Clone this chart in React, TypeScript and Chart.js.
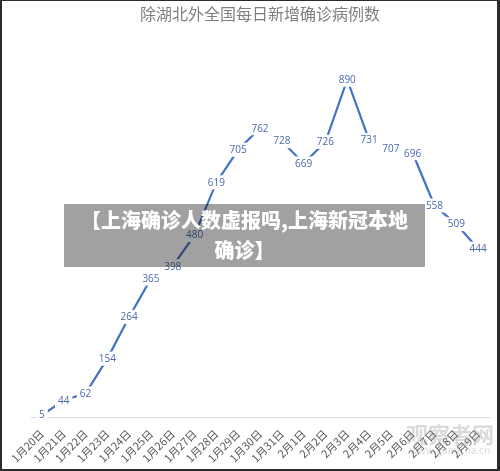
import React, { useEffect, useRef } from "react";
import { Chart, registerables } from "chart.js";

Chart.register(...registerables);

const titleText = "除湖北外全国每日新增确诊病例数";
const categories = [
  "1月20日", "1月21日", "1月22日", "1月23日", "1月24日", "1月25日", "1月26日",
  "1月27日", "1月28日", "1月29日", "1月30日", "1月31日", "2月1日", "2月2日",
  "2月3日", "2月4日", "2月5日", "2月6日", "2月7日", "2月8日", "2月9日",
];
const newCases = [
  5, 44, 62, 154, 264, 365, 398, 480, 619, 705, 762, 728, 669, 726, 890, 731,
  707, 696, 558, 509, 444,
];
const overlayLines = ["【上海确诊人数虚报吗,上海新冠本地", "确诊】"];

const LINE_COLOR = "#4472c4";
const LABEL_COLOR = "#4a69ad";

const labelPlugin = {
  id: "pointLabels",
  afterDatasetsDraw(chart: any) {
    const ctx = chart.ctx;
    const meta = chart.getDatasetMeta(0);
    const data = chart.data.datasets[0].data as number[];
    ctx.save();
    ctx.font = "10px 'Open Sans', 'Noto Sans', sans-serif";
    ctx.textAlign = "center";
    ctx.textBaseline = "middle";
    meta.data.forEach((pt: any, i: number) => {
      const txt = String(data[i]);
      const w = ctx.measureText(txt).width;
      ctx.fillStyle = "#ffffff";
      ctx.fillRect(pt.x - w / 2 - 3, pt.y - 7, w + 6, 14);
      ctx.fillStyle = LABEL_COLOR;
      ctx.fillText(txt, pt.x, pt.y + 0.5);
    });
    ctx.restore();
  },
};

export default function App() {
  const canvasRef = useRef<HTMLCanvasElement | null>(null);

  useEffect(() => {
    document.body.style.margin = "0";
    const canvas = canvasRef.current;
    if (!canvas) return;
    const chart = new Chart(canvas, {
      type: "line",
      data: {
        labels: categories,
        datasets: [
          {
            data: newCases,
            borderColor: LINE_COLOR,
            borderWidth: 2.2,
            pointRadius: 0,
            tension: 0,
            fill: false,
          },
        ],
      },
      options: {
        animation: false,
        responsive: false,
        devicePixelRatio: 1,
        layout: { padding: { left: 31, right: 11, top: 0, bottom: 0 } },
        plugins: {
          legend: { display: false },
          tooltip: { enabled: false },
          title: {
            display: true,
            text: titleText,
            color: "#7f7f7f",
            font: { size: 16, family: "'Noto Sans CJK SC', sans-serif", weight: "normal" as any, lineHeight: 1.2 },
            padding: { top: 4, bottom: 14.8 },
          },
        },
        scales: {
          x: {
            type: "category",
            offset: true,
            grid: { display: false, drawTicks: false },
            border: { display: true, color: "#d9d9d9", width: 1 },
            ticks: {
              autoSkip: false,
              minRotation: 45,
              maxRotation: 45,
              padding: 10,
              color: "#595959",
              font: { size: 11, family: "'Noto Sans CJK SC', sans-serif" },
            },
            afterFit(scale: any) {
              scale.height = 54;
            },
          },
          y: {
            display: false,
            min: 0,
            max: 1000,
          },
        },
      },
      plugins: [labelPlugin],
    });
    return () => chart.destroy();
  }, []);

  return (
    <div style={{ position: "fixed", left: 0, top: 0, width: 500, height: 471, background: "#fff", overflow: "hidden" }}>
      <canvas ref={canvasRef} width={500} height={471} style={{ position: "absolute", left: 0, top: 0, width: 500, height: 471 }} />
      <div
        style={{
          position: "absolute",
          right: 6,
          bottom: 16,
          color: "rgba(150,150,150,0.35)",
          fontFamily: "'Noto Sans CJK SC', sans-serif",
          fontSize: 22,
          fontWeight: 700,
          lineHeight: "24px",
          textAlign: "center",
        }}
      >
        观察者网
        <div style={{ fontSize: 10, lineHeight: "10px", fontWeight: 400 }}>www.guancha.cn</div>
      </div>
      <div
        style={{
          position: "absolute",
          left: 64,
          top: 204,
          width: 361,
          height: 63,
          background: "rgba(0,0,0,0.37)",
          color: "#ffffff",
          fontFamily: "'Noto Sans CJK SC', sans-serif",
          fontWeight: 900,
          fontSize: 20,
          lineHeight: "30px",
          textAlign: "center",
          boxSizing: "border-box",
          paddingTop: 1,
          whiteSpace: "nowrap",
        }}
      >
        {overlayLines[0]}
        <br />
        {overlayLines[1]}
      </div>
      <div
        style={{
          position: "absolute",
          left: 0,
          top: 0,
          width: 500,
          height: 471,
          boxSizing: "border-box",
          borderStyle: "solid",
          borderColor: "#2b2b2b",
          borderWidth: "1px 3px 2px 2px",
          pointerEvents: "none",
        }}
      />
    </div>
  );
}
